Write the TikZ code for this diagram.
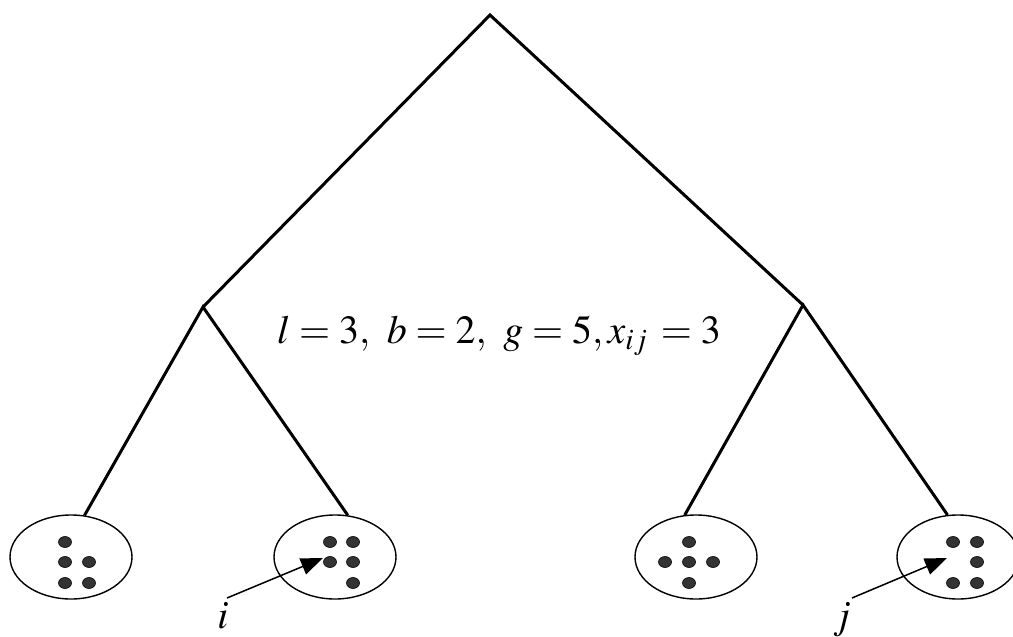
\documentclass[tikz,border=0pt]{standalone}
\usepackage{mathptmx}
\usepackage{tikz}
\usetikzlibrary{shapes.geometric,arrows.meta}

\begin{document}
\begin{tikzpicture}[x=1pt,y=-1pt,
    branch/.style={line width=3pt,black},
    leaf/.style={ellipse,draw,line width=1.4pt,minimum width=122pt,minimum height=84pt,inner sep=0pt},
    pt/.style={ellipse,draw=black,fill=black!80,line width=0.6pt,minimum width=13pt,minimum height=11pt,inner sep=0pt},
    pointer/.style={-{Triangle[length=22pt,width=17pt]},line width=1.5pt},
    lab/.style={font=\fontsize{40}{48}\selectfont,inner sep=0pt,anchor=base}]
\useasboundingbox (0,0) rectangle (1013,637);
% tree
\coordinate (root) at (490,15);
\coordinate (nl) at (203,307);
\coordinate (nr) at (803,305);
\node[leaf] (leafA) at (71,557) {};
\node[leaf] (leafB) at (335,557) {};
\node[leaf] (leafC) at (696,557) {};
\node[leaf] (leafD) at (958,557) {};
\draw[branch] (nl) -- (root) -- (nr);
\draw[branch] (leafA.72) -- (nl) -- (leafB.73);
\draw[branch] (leafC.105) -- (nr) -- (leafD.104);
% members of each group
\foreach \p in {(65,542),(65,562),(89,562),(65,583),(89,583)}
  \node[pt] at \p {};
\foreach \p in {(330,542),(353,542),(330,562),(353,562),(353,583)}
  \node[pt] at \p {};
\foreach \p in {(689,542),(665,562),(689,562),(713,562),(689,583)}
  \node[pt] at \p {};
\foreach \p in {(953,542),(977,542),(977,562),(953,583),(977,583)}
  \node[pt] at \p {};
% labels
\node[lab] (params) at (499,343) {$l=3,\ b=2,\ g=5, x_{ij}\,=3$};
\node[lab] (li) at (223,628) {$i$};
\node[lab] (lj) at (842,628) {$j$};
\coordinate (ti) at (227,598);
\coordinate (hi) at (323,558);
\coordinate (tj) at (852,598);
\coordinate (hj) at (947,558);
\draw[pointer] (ti) -- (hi);
\draw[pointer] (tj) -- (hj);
\end{tikzpicture}
\end{document}
